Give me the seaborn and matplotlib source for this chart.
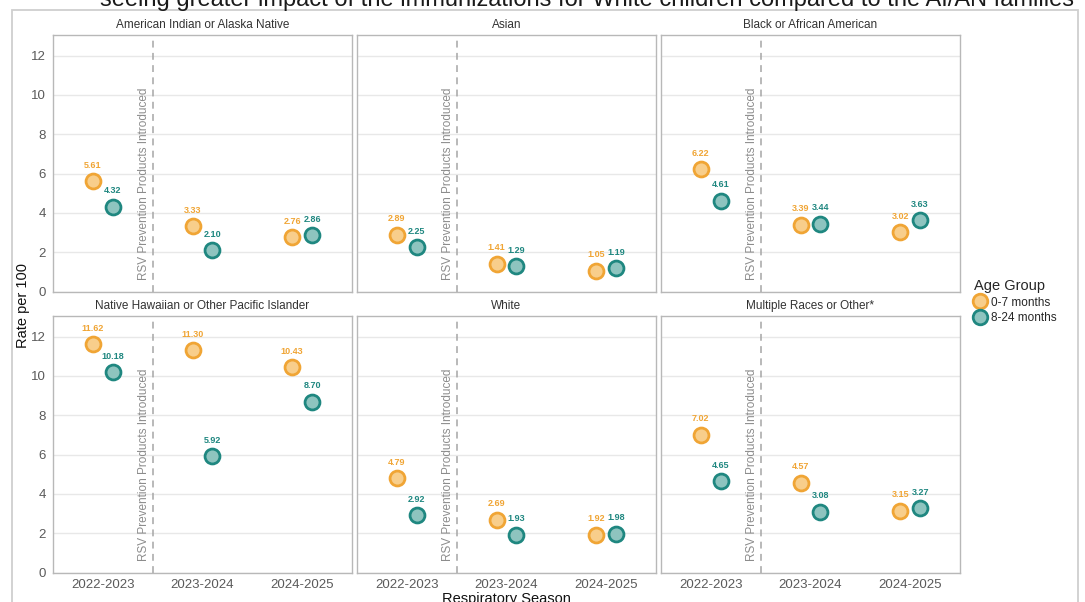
import numpy as np
import pandas as pd
import seaborn as sns
import matplotlib.pyplot as plt
from matplotlib.patches import Rectangle
from matplotlib.lines import Line2D

# ---- data -------------------------------------------------------------
seasons = ["2022-2023", "2023-2024", "2024-2025"]
races = [
    "American Indian or Alaska Native",
    "Asian",
    "Black or African American",
    "Native Hawaiian or Other Pacific Islander",
    "White",
    "Multiple Races or Other*",
]
age_groups = ["0-7 months", "8-24 months"]

# rate per 100, one row per race, one column per season
rate_0_7 = [
    [5.61, 3.33, 2.76],
    [2.89, 1.41, 1.05],
    [6.22, 3.39, 3.02],
    [11.62, 11.30, 10.43],
    [4.79, 2.69, 1.92],
    [7.02, 4.57, 3.15],
]
rate_8_24 = [
    [4.32, 2.10, 2.86],
    [2.25, 1.29, 1.19],
    [4.61, 3.44, 3.63],
    [10.18, 5.92, 8.70],
    [2.92, 1.93, 1.98],
    [4.65, 3.08, 3.27],
]

headline = ("seeing greater impact of the immunizations for White children "
            "compared to the AI/AN families")
marker_note = "RSV Prevention Products Introduced"

# ---- tidy frame -------------------------------------------------------
rows = []
for r, race in enumerate(races):
    for s, season in enumerate(seasons):
        rows.append(dict(race=race, season=season, age=age_groups[0], rate=rate_0_7[r][s]))
        rows.append(dict(race=race, season=season, age=age_groups[1], rate=rate_8_24[r][s]))
df = pd.DataFrame(rows)
season_pos = {s: i + 1 for i, s in enumerate(seasons)}
dodge = {age_groups[0]: -0.1, age_groups[1]: 0.1}
df["x"] = df["season"].map(season_pos) + df["age"].map(dodge)

# ---- style ------------------------------------------------------------
sns.set_theme(style="white")
plt.rcParams["font.family"] = ["Liberation Sans", "DejaVu Sans"]

fill = {age_groups[0]: "#F8CE8B", age_groups[1]: "#8EC4BF"}
edge = {age_groups[0]: "#F0A535", age_groups[1]: "#1F8780"}

W, H = 1085, 602
fig = plt.figure(figsize=(W / 100, H / 100), dpi=100)

col_left = [53, 357, 661]
row_top = [35, 316]
pw, ph = 299, 256.5

axes = []
for i, race in enumerate(races):
    r, c = divmod(i, 3)
    L, T = col_left[c], row_top[r]
    ax = fig.add_axes([L / W, 1 - (T + ph) / H, pw / W, ph / H])
    axes.append(ax)
    sub = df[df["race"] == race]

    ax.axvline(1.5, color="#A6A6A6", lw=1.1, ls=(0, (4.5, 3.5)), zorder=1)
    ax.text(1.41, 0.6, marker_note, rotation=90, ha="center", va="bottom",
            fontsize=8.5, color="#8C8C8C", zorder=2)

    for g in age_groups:
        part = sub[sub["age"] == g]
        sns.scatterplot(data=part, x="x", y="rate", ax=ax, color=fill[g],
                        edgecolor=edge[g], linewidth=2.0, s=115, legend=False,
                        zorder=3, label=g)
        for _, row in part.iterrows():
            ax.annotate(f"{row['rate']:.2f}", (row["x"], row["rate"]),
                        xytext=(0, 11.5), textcoords="offset points",
                        ha="center", va="center", fontsize=6.5,
                        fontweight="bold", color=edge[g], zorder=4)

    ax.set_xlim(0.5, 3.5)
    ax.set_ylim(0, 13.05)
    ax.set_xticks([1, 2, 3])
    ax.set_xticklabels(seasons)
    ax.set_yticks(np.arange(0, 13, 2))
    ax.set_xlabel("")
    ax.set_ylabel("")
    ax.yaxis.grid(True, color="#E8E8E8", lw=1.0)
    ax.xaxis.grid(False)
    ax.set_axisbelow(True)
    for sp in ax.spines.values():
        sp.set_color("#B8B8B8")
        sp.set_linewidth(1.0)
    ax.tick_params(axis="both", length=3, width=0.8, color="#B3B3B3", pad=2,
                   labelsize=9.5, labelcolor="#5A5A5A")
    if c != 0:
        ax.tick_params(axis="y", left=False, labelleft=False)
    if r == 0:
        ax.tick_params(axis="x", bottom=False, labelbottom=False)
    ax.text(0.5, 1 + 10 / ph, race, transform=ax.transAxes, ha="center",
            va="center", fontsize=8.5, color="#333333")

# axis titles
fig.text(23 / W, 1 - 305 / H, "Rate per 100", rotation=90, ha="center",
         va="center", fontsize=10.5, color="#111111")
fig.text(506.5 / W, -0.001, "Respiratory Season", ha="center",
         va="baseline", fontsize=10.5, color="#111111")

# legend
handles = [Line2D([], [], ls="none", marker="o", markersize=10.5,
                  markerfacecolor=fill[g], markeredgecolor=edge[g],
                  markeredgewidth=2.0, label=g) for g in age_groups]
fig.legend(handles=handles, title="Age Group", loc="upper left",
           bbox_to_anchor=(974 / W, 1 - 279 / H), frameon=False,
           alignment="left", handletextpad=0.45, borderpad=0,
           labelspacing=0.3, handlelength=1.0, borderaxespad=0,
           fontsize=8.5, title_fontsize=10.5)

# surrounding frame and headline line above it
fig.add_artist(Rectangle((12 / W, -0.05), (1078 - 12) / W, (1 - 10 / H) + 0.05,
                         transform=fig.transFigure, fill=False,
                         edgecolor="#CFCFCF", lw=1.3))
fig.text(100 / W, 1 - 6 / H, headline, ha="left", va="baseline",
         fontsize=17, color="#1A1A1A")

fig.savefig("out.png", dpi=100)
